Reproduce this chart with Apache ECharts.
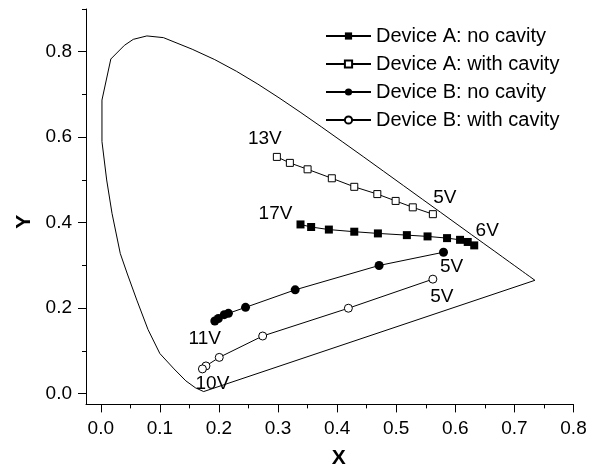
<!DOCTYPE html>
<html>
<head>
<meta charset="utf-8">
<script src="https://cdn.jsdelivr.net/npm/echarts@6/dist/echarts.min.js"></script>
<style>
html,body{margin:0;padding:0;background:#fff;}
#chart{width:595px;height:465px;}
</style>
</head>
<body>
<div id="chart"></div>
<script>
// CIE 1931 spectral locus (closed by purple line)
const locus = [
  [0.1741,0.0050],[0.1600,0.0140],[0.1440,0.0300],[0.1240,0.0580],[0.1000,0.0940],
  [0.0800,0.1500],[0.0610,0.2190],[0.0450,0.2800],[0.0330,0.3280],[0.0190,0.4220],
  [0.0100,0.5000],[0.0020,0.5900],[0.0020,0.6870],[0.0170,0.7830],[0.0400,0.8150],
  [0.0550,0.8290],[0.0780,0.8370],[0.1060,0.8330],[0.1547,0.8059],[0.1929,0.7816],
  [0.2296,0.7543],[0.2658,0.7243],[0.3016,0.6923],[0.3373,0.6589],[0.3731,0.6245],
  [0.4087,0.5896],[0.4441,0.5547],[0.4788,0.5202],[0.5125,0.4866],[0.5448,0.4544],
  [0.5752,0.4242],[0.6029,0.3965],[0.6270,0.3725],[0.6482,0.3514],[0.6658,0.3340],
  [0.6801,0.3197],[0.6915,0.3083],[0.7006,0.2993],[0.7079,0.2920],[0.7140,0.2859],
  [0.7190,0.2809],[0.7260,0.2740],[0.7347,0.2653],[0.1741,0.0050]
];

// Device A: no cavity (17V -> 6V)
const aNoCavity = [
  [0.338,0.396],[0.356,0.390],[0.386,0.384],[0.429,0.379],[0.469,0.375],[0.518,0.371],
  [0.553,0.368],[0.586,0.364],[0.608,0.360],[0.621,0.355],[0.632,0.347]
];
const aNoCavityEnds = ['17V','6V'];

// Device A: with cavity (13V -> 5V)
const aWithCavity = [
  [0.298,0.554],[0.320,0.540],[0.350,0.525],[0.391,0.504],[0.429,0.484],[0.468,0.467],
  [0.499,0.451],[0.528,0.436],[0.562,0.420]
];
const aWithCavityEnds = ['13V','5V'];

// Device B: no cavity (5V -> 11V)
const bNoCavity = [
  [0.580,0.331],[0.471,0.300],[0.329,0.243],[0.245,0.202],[0.216,0.188],[0.209,0.185],
  [0.199,0.176],[0.193,0.170]
];
const bNoCavityEnds = ['5V','11V'];

// Device B: with cavity (5V -> 10V)
const bWithCavity = [
  [0.562,0.268],[0.419,0.200],[0.274,0.135],[0.2005,0.085],[0.178,0.065],[0.172,0.058]
];
const bWithCavityEnds = ['5V','10V'];

const seriesNames = ['Device A: no cavity','Device A: with cavity','Device B: no cavity','Device B: with cavity'];

const xLabels = [0.0,0.1,0.2,0.3,0.4,0.5,0.6,0.7,0.8];
const xMinor = [0.05,0.15,0.25,0.35,0.45,0.55,0.65,0.75];
const yLabels = [0.0,0.2,0.4,0.6,0.8];
const yMinor = [0.1,0.3,0.5,0.7,0.9];

const FONT = '"Liberation Sans", Arial, Helvetica, sans-serif';

function withEndLabels(data, ends, firstOff, lastOff) {
  return data.map((p, i) => {
    const item = { value: p };
    if (i === 0 || i === data.length - 1) {
      const off = i === 0 ? firstOff : lastOff;
      item.label = {
        show: true, formatter: i === 0 ? ends[0] : ends[1],
        position: 'inside', offset: off, color: '#000',
        fontSize: 19, fontFamily: FONT, align: 'center', verticalAlign: 'middle'
      };
    }
    return item;
  });
}

const axisCommon = {
  type: 'value',
  axisLine: { onZero: false, lineStyle: { color: '#000', width: 1 } },
  splitLine: { show: false }
};

const option = {
  animation: false,
  backgroundColor: '#fff',
  grid: { left: 86, right: 21.5, top: 9, bottom: 60.6, containLabel: false, outerBoundsMode: 'none' },
  legend: {
    data: seriesNames,
    orient: 'vertical',
    left: 325, top: 26,
    padding: 0,
    itemWidth: 45, itemHeight: 9, itemGap: 8,
    textStyle: { fontSize: 20, color: '#000', fontFamily: FONT }
  },
  xAxis: [
    Object.assign({}, axisCommon, {
      min: -0.025, max: 0.8,
      name: 'X', nameLocation: 'middle', nameGap: 43,
      nameTextStyle: { fontSize: 21, fontWeight: 'bold', color: '#000', fontFamily: FONT, padding: [0,0,0,18] },
      axisTick: { customValues: xLabels, length: 8, lineStyle: { color: '#000' } },
      axisLabel: { customValues: xLabels, margin: 15, fontSize: 19, color: '#000', fontFamily: FONT,
        formatter: v => v.toFixed(1) }
    }),
    Object.assign({}, axisCommon, {
      min: -0.025, max: 0.8, position: 'bottom',
      axisLine: { show: false, onZero: false },
      axisTick: { customValues: xMinor, length: 4, lineStyle: { color: '#000' } },
      axisLabel: { show: false }
    })
  ],
  yAxis: [
    Object.assign({}, axisCommon, {
      min: -0.025, max: 0.9,
      name: 'Y', nameLocation: 'middle', nameGap: 51,
      nameTextStyle: { fontSize: 21, fontWeight: 'bold', color: '#000', fontFamily: FONT, padding: [0,30,0,0] },
      axisTick: { customValues: yLabels, length: 8, lineStyle: { color: '#000' } },
      axisLabel: { customValues: yLabels, margin: 14, fontSize: 19, color: '#000', fontFamily: FONT,
        formatter: v => v.toFixed(1) }
    }),
    Object.assign({}, axisCommon, {
      min: -0.025, max: 0.9, position: 'left',
      axisLine: { show: false, onZero: false },
      axisTick: { customValues: yMinor, length: 4, lineStyle: { color: '#000' } },
      axisLabel: { show: false }
    })
  ],
  series: [
    {
      name: 'locus', type: 'line', data: locus, symbol: 'none', silent: true,
      lineStyle: { color: '#000', width: 1 }, z: 1
    },
    {
      name: seriesNames[0], type: 'line', symbol: 'rect', symbolSize: 8,
      data: withEndLabels(aNoCavity, aNoCavityEnds, [-25,-11], [13,-15]),
      itemStyle: { color: '#000' }, lineStyle: { color: '#000', width: 1 }, z: 3
    },
    {
      name: seriesNames[1], type: 'line', symbol: 'rect', symbolSize: 7,
      data: withEndLabels(aWithCavity, aWithCavityEnds, [-12,-18], [12,-16]),
      itemStyle: { color: '#fff', borderColor: '#000', borderWidth: 1 },
      lineStyle: { color: '#000', width: 1 }, z: 3
    },
    {
      name: seriesNames[2], type: 'line', symbol: 'circle', symbolSize: 9,
      data: withEndLabels(bNoCavity, bNoCavityEnds, [8,15], [-10,17.5]),
      itemStyle: { color: '#000' }, lineStyle: { color: '#000', width: 1 }, z: 3
    },
    {
      name: seriesNames[3], type: 'line', symbol: 'circle', symbolSize: 8,
      data: withEndLabels(bWithCavity, bWithCavityEnds, [9,18], [10,15]),
      itemStyle: { color: '#fff', borderColor: '#000', borderWidth: 1 },
      lineStyle: { color: '#000', width: 1 }, z: 3
    }
  ]
};

const chart = echarts.init(document.getElementById('chart'), null, { renderer: 'canvas' });
chart.setOption(option);
</script>
</body>
</html>
